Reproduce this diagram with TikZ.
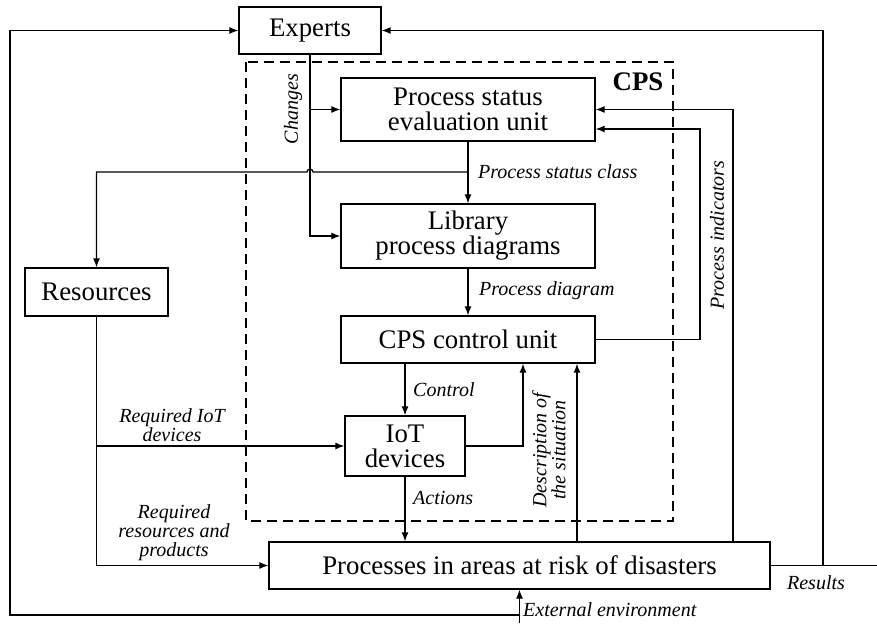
\documentclass[tikz,border=0pt]{standalone}
\usepackage{fontspec}
\setmainfont{Liberation Serif}
\usetikzlibrary{arrows.meta,calc}
\tikzset{
  box/.style={draw, line width=1.3pt, rectangle, inner sep=0pt, align=center, font=\fontsize{26.8}{25}\selectfont},
  lbl/.style={inner sep=0pt, align=center, font=\fontsize{20}{19}\selectfont\itshape},
  arr/.style={line width=1.2pt, -{Latex[length=9pt,width=7pt]}},
  ln/.style={line width=1.2pt},
}
\begin{document}
\begin{tikzpicture}[x=1pt,y=1pt]
\useasboundingbox (0,0) rectangle (877,-623);
% CPS frame
\draw[line width=1.4pt, dash pattern=on 10pt off 6pt] (246,-62) rectangle (673,-521);
\node[font=\fontsize{26.8}{26}\selectfont\bfseries, inner sep=0pt] (cps) at (638,-82) {CPS};
% boxes
\node[box, minimum width=142pt, minimum height=47pt] (exp) at (310,-30.5) {Experts};
\node[box, minimum width=254pt, minimum height=63pt] (pse) at (468,-109.5) {Process status\\evaluation unit};
\node[box, minimum width=254pt, minimum height=64pt] (lib) at (468,-236) {Library\\process diagrams};
\node[box, minimum width=254pt, minimum height=47pt] (cu) at (468,-339.5) {CPS control unit};
\node[box, minimum width=120pt, minimum height=60pt] (iot) at (405,-446) {IoT\\devices};
\node[box, minimum width=143pt, minimum height=48pt] (res) at (96.5,-292) {Resources};
\node[box, minimum width=501pt, minimum height=47pt] (proc) at (519.5,-565.5) {Processes in areas at risk of disasters};
% helper coordinates
\coordinate (ext) at (519.5,-623);
\coordinate (extj) at (519.5,-615);
\coordinate (rend) at (877,-565.5);
\coordinate (resj) at (823,-565.5);
\coordinate (psj) at (468,-172);
% Changes
\draw[arr] (exp.south) |- (lib.west);
\draw[arr] (exp.south |- pse.west) -- (pse.west);
% Process status class
\draw[arr] (pse.south) -- (lib.north);
\draw[arr] (psj) -- (313,-172) arc[start angle=0,end angle=180,radius=3pt] -- (96.5,-172) -- (res.north);
% Process diagram
\draw[arr] (lib.south) -- (cu.north);
% CPS control unit -> PSE
\draw[arr] (cu.east) -| (700,-129) -- ([yshift=-19.5pt]pse.east);
% Process indicators
\draw[arr] ([xshift=213.5pt]proc.north) |- (pse.east);
% Control
\draw[arr] (iot.north |- cu.south) -- (iot.north);
% IoT -> control unit
\draw[arr] (iot.east) -| ([xshift=55pt]cu.south);
% Processes -> control unit
\draw[arr] ([xshift=57.5pt]proc.north) -- ([xshift=109pt]cu.south);
% Actions
\draw[arr] (iot.south) -- (proc.north -| iot.south);
% Resources
\draw[arr] (res.south) |- (proc.west);
\draw[arr] (res.south |- iot.west) -- (iot.west);
% Results
\draw[ln] (proc.east) -- (rend);
\draw[arr] (resj) |- (exp.east);
% External environment
\draw[arr] (ext) -- (proc.south);
\draw[arr] (extj) -- (10,-615) |- (exp.west);
% labels
\node[lbl, rotate=90] (lchg) at (293,-109) {Changes};
\node[lbl, anchor=west] (lpsc) at (478,-172) {Process status class};
\node[lbl, anchor=west] (lpd) at (479,-291) {Process diagram};
\node[lbl, rotate=90] (lpi) at (717,-235) {Process indicators};
\node[lbl, anchor=west] (lctl) at (413,-390) {Control};
\node[lbl, rotate=90] (ldesc) at (549,-450) {Description of\\the situation};
\node[lbl, anchor=west] (lact) at (413,-498) {Actions};
\node[lbl] (lriot) at (172,-425) {Required IoT\\devices};
\node[lbl] (lrrp) at (174,-533) {Required\\resources and\\products};
\node[lbl] (lres) at (816,-583) {Results};
\node[lbl, anchor=west] (lext) at (523,-610) {External environment};
\end{tikzpicture}
\end{document}
